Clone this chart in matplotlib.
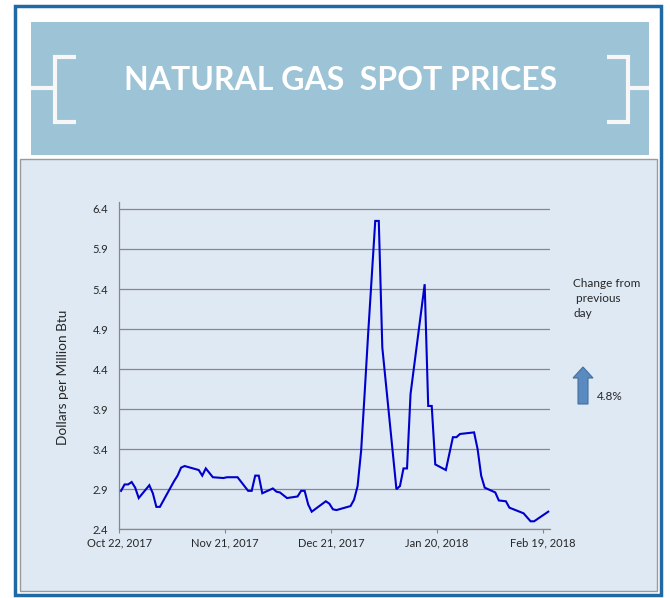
import matplotlib
matplotlib.use('Agg')
import matplotlib.pyplot as plt
from matplotlib.patches import Rectangle, Polygon
import pandas as pd

# --- data (day offsets from Oct 22, 2017) ---
start_date = pd.Timestamp('2017-10-22')
day_offsets = [0, 1, 2, 3, 4, 5, 8, 9, 10, 11, 15, 16, 17, 18, 22, 23, 24, 26,
               29, 30, 33, 36, 37, 38, 39, 40, 43, 44, 45, 47, 50, 51, 52, 53,
               54, 58, 59, 60, 61, 65, 66, 67, 68, 69, 70, 71, 72, 73, 74, 78,
               79, 80, 81, 82, 86, 87, 88, 89, 92, 94, 95, 96, 100, 101, 102,
               103, 106, 107, 109, 110, 114, 116, 117, 121]
prices = [2.88, 2.96, 2.96, 2.99, 2.92, 2.79, 2.95, 2.85, 2.68, 2.68, 3.00,
          3.07, 3.17, 3.19, 3.14, 3.07, 3.16, 3.05, 3.04, 3.05, 3.05, 2.88,
          2.88, 3.07, 3.07, 2.85, 2.91, 2.87, 2.86, 2.79, 2.81, 2.88, 2.88,
          2.71, 2.62, 2.75, 2.72, 2.65, 2.64, 2.69, 2.77, 2.94, 3.38, 4.10,
          4.85, 5.55, 6.25, 6.25, 4.67, 2.90, 2.94, 3.16, 3.16, 4.09, 5.46,
          3.94, 3.94, 3.21, 3.14, 3.55, 3.55, 3.59, 3.61, 3.40, 3.07, 2.92,
          2.86, 2.76, 2.75, 2.67, 2.60, 2.50, 2.50, 2.62]
y_ticks = [2.4, 2.9, 3.4, 3.9, 4.4, 4.9, 5.4, 5.9, 6.4]
tick_dates = ['2017-10-22', '2017-11-21', '2017-12-21', '2018-01-20', '2018-02-19']
tick_labels = ['Oct 22, 2017', 'Nov 21, 2017', 'Dec 21, 2017', 'Jan 20, 2018', 'Feb 19, 2018']
change_text = '4.8%'

FONT = 'Lato'
TXT = '#262626'

fig = plt.figure(figsize=(6.7, 5.98), dpi=100)

# background layer in pixel coordinates (y down)
bg = fig.add_axes([0, 0, 1, 1])
bg.set_xlim(0, 670)
bg.set_ylim(598, 0)
bg.axis('off')

bg.add_patch(Rectangle((20, 159), 637, 432, fc='#DEE9F4', ec='#9A9A9A', lw=1))
bg.add_patch(Rectangle((31, 22), 618, 133, fc='#9DC3D6', ec='none'))
bg.add_patch(Rectangle((14.5, 5.5), 646, 589, fill=False, ec='#1F6AA5', lw=2.5))

# title brackets
br = dict(color='#F7F7F7', lw=3, solid_capstyle='butt', solid_joinstyle='miter')
bg.plot([76, 55, 55, 76], [57, 57, 122, 122], **br)
bg.plot([31, 55], [88, 88], **br)
bg.plot([607, 628, 628, 607], [57, 57, 122, 122], **br)
bg.plot([628, 649], [88, 88], **br)
bg.text(341, 81, 'NATURAL GAS  SPOT PRICES', ha='center', va='center',
        color='white', fontsize=23, fontweight='bold', family=FONT)

# right side note + arrow
bg.text(573, 278, 'Change from\n previous\nday', ha='left', va='top',
        fontsize=8.5, family=FONT, color=TXT, linespacing=1.45)
bg.add_patch(Polygon([(578, 404), (578, 378), (573, 378), (583, 367),
                      (593, 378), (588, 378), (588, 404)],
                     closed=True, fc='#5A8AC0', ec='#41719C', lw=0.8))
bg.text(597, 396, change_text, ha='left', va='center', fontsize=8.5,
        family=FONT, color=TXT)

# y label
bg.text(63, 377, 'Dollars per Million Btu', rotation=90, ha='center',
        va='center', fontsize=9.8, family=FONT, color=TXT)

# main chart
ax = fig.add_axes([119.3 / 670, (598 - 529.3) / 598, (550 - 119.3) / 670,
                   (529.3 - 201.7) / 598])
ax.set_facecolor('none')

dates = start_date + pd.to_timedelta(day_offsets, unit='D') + pd.Timedelta(hours=12)
ax.plot(dates, prices, color='#0000CC', lw=1.5, solid_joinstyle='miter', zorder=3)

ax.set_xlim(start_date, start_date + pd.Timedelta(days=122))
ax.set_ylim(2.4, 6.49)
ax.set_yticks(y_ticks)
ax.set_yticklabels([f'{v:.1f}' for v in y_ticks], family=FONT, fontsize=8, color=TXT)
ax.set_xticks(pd.to_datetime(tick_dates))
ax.set_xticklabels(tick_labels, family=FONT, fontsize=8, color=TXT)
ax.tick_params(axis='y', length=0, pad=8)
ax.tick_params(axis='x', length=3, width=0.8, color='#888888', pad=3)

ax.grid(axis='y', color='#888888', lw=0.9)
ax.set_axisbelow(True)
for s in ['top', 'right']:
    ax.spines[s].set_visible(False)
for s in ['left', 'bottom']:
    ax.spines[s].set_color('#888888')
    ax.spines[s].set_linewidth(0.9)

fig.savefig('out.png', dpi=100)
